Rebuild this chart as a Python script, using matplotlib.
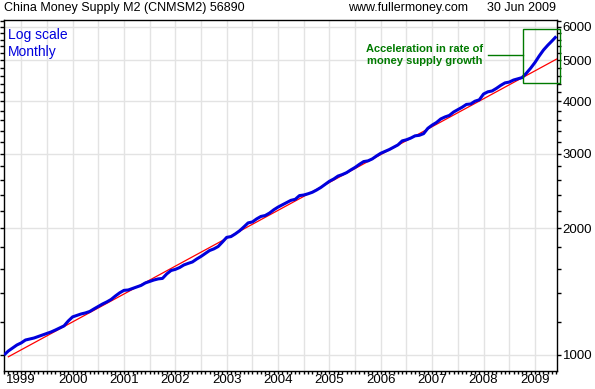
import matplotlib
matplotlib.use('Agg')
import matplotlib.pyplot as plt
import numpy as np
from matplotlib.patches import Rectangle

plt.rcParams['font.family'] = ['Liberation Sans', 'DejaVu Sans']

# ---------------- data ----------------
start_year, start_month = 1998, 9   # first monthly observation (Sep 1998)
m2_values = [
    1000, 1022, 1039, 1056,                                          # Sep-Dec 1998
    1068, 1085, 1091, 1097, 1106, 1115, 1124, 1134, 1146, 1159, 1172, 1204,  # 1999
    1231, 1241, 1251, 1258, 1268, 1286, 1303, 1321, 1336, 1354, 1380, 1404,  # 2000
    1423, 1426, 1438, 1450, 1462, 1482, 1494, 1506, 1515, 1519, 1557, 1586,  # 2001
    1596, 1612, 1635, 1649, 1662, 1689, 1713, 1741, 1769, 1785, 1808, 1853,  # 2002
    1901, 1909, 1937, 1970, 2012, 2057, 2068, 2103, 2131, 2142, 2171, 2210,  # 2003
    2243, 2271, 2298, 2327, 2340, 2388, 2396, 2412, 2432, 2462, 2497, 2539,  # 2004
    2583, 2615, 2657, 2679, 2707, 2748, 2786, 2833, 2876, 2887, 2918, 2966,  # 2005
    3010, 3040, 3072, 3110, 3150, 3220, 3240, 3270, 3310, 3320, 3350, 3450,  # 2006
    3510, 3560, 3630, 3670, 3700, 3770, 3820, 3870, 3930, 3940, 4000, 4030,  # 2007
    4160, 4210, 4230, 4290, 4360, 4420, 4440, 4490, 4520, 4550, 4660, 4790,  # 2008
    4940, 5120, 5290, 5430, 5560, 5700,                                       # 2009
]
trend_dates = [1998.75, 2009.43]
trend_values = [990, 5040]
year_labels = [str(y) for y in range(1999, 2010)]
y_major = [1000, 2000, 3000, 4000, 5000, 6000]

# ---------------- figure ----------------
W, H = 595, 389
fig = plt.figure(figsize=(W / 100, H / 100), dpi=100)
ax = fig.add_axes([4 / W, 18 / H, 553 / W, 351.5 / H])

x = start_year + (start_month - 1) / 12 + np.arange(len(m2_values)) / 12

ax.set_yscale('log')
ax.set_xlim(1998.665, 2009.43)
ax.set_ylim(916, 6250)

# grid at half years
half_years = np.arange(1999, 2009.01, 0.5)
ax.set_xticks(half_years)
ax.set_xticklabels([year_labels[int(h - 1999)] if h == int(h) else '' for h in half_years])
ax.set_xticks(np.arange(1998 + 8 / 12, 2009.45, 1 / 12), minor=True)
ax.tick_params(axis='x', which='major', length=2, width=1, pad=0.5, labelsize=9.5, direction='out')
ax.tick_params(axis='x', which='minor', length=2, width=1, direction='out')

ax.set_yticks(y_major)
ax.set_yticklabels([str(v) for v in y_major])
minor_y = [v for v in range(1000, 6201, 200) if v % 1000 != 0]
ax.set_yticks(minor_y, minor=True)
ax.yaxis.set_minor_formatter(matplotlib.ticker.NullFormatter())
ax.tick_params(axis='y', which='both', left=True, right=True, labelleft=False,
               labelright=True, direction='out', labelsize=9.5, pad=1)
ax.tick_params(axis='y', which='major', length=3, width=1)
ax.tick_params(axis='y', which='minor', length=3, width=1)

ax.grid(True, which='major', color='#e3e3e3', linewidth=1)
ax.set_axisbelow(True)
for s in ax.spines.values():
    s.set_color('black')
    s.set_linewidth(1)

ax.plot(trend_dates, trend_values, color='#ff0000', linewidth=0.9, zorder=3)
ax.plot(x, m2_values, color='#0000dd', linewidth=2.2, zorder=4, solid_capstyle='butt')

# annotation box & text
def px2x(px):
    return 1999 + (px - 21) / 51.4

def py2y(py):
    return 1000 * 10 ** ((355 - py) / 421.5)

green = '#007a00'
x0, x1 = px2x(523), px2x(560)
y0, y1 = py2y(83), py2y(29)
ax.add_patch(Rectangle((x0, y0), x1 - x0, y1 - y0, fill=False, edgecolor=green,
                       linewidth=1, clip_on=False, zorder=5))
ax.plot([px2x(488), x0], [py2y(55), py2y(55)], color=green, linewidth=1, zorder=5)
ax.text(px2x(425), py2y(55.5), 'Acceleration in rate of\nmoney supply growth',
        color=green, fontsize=8, fontweight='bold', ha='center', va='center',
        linespacing=1.25, zorder=6)

ax.text(0.007, 0.975, 'Log scale\nMonthly', transform=ax.transAxes, color='#0000dd',
        fontsize=10, ha='left', va='top', linespacing=1.25)

fig.text(4 / W, 1 - 8 / H, 'China Money Supply M2 (CNMSM2) 56890', fontsize=9,
         ha='left', va='center')
fig.text(348 / W, 1 - 8 / H, 'www.fullermoney.com', fontsize=9, ha='left', va='center')
fig.text(556 / W, 1 - 8 / H, '30 Jun 2009', fontsize=9, ha='right', va='center')

fig.savefig('out.png', dpi=100)
